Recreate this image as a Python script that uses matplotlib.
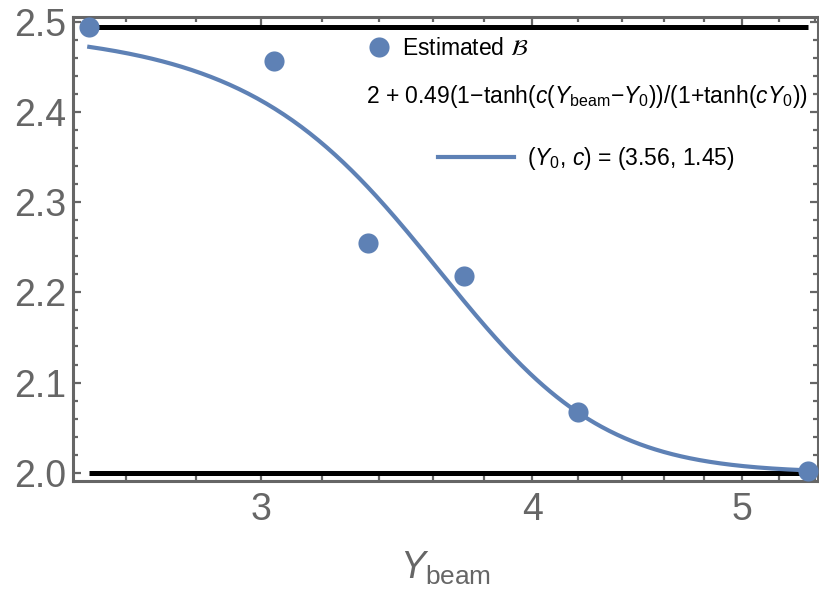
import numpy as np
import matplotlib
matplotlib.use("Agg")
import matplotlib.pyplot as plt
from matplotlib.ticker import FixedLocator, FixedFormatter, NullFormatter

plt.rcParams['font.family'] = ['Liberation Sans', 'DejaVu Sans']
plt.rcParams['mathtext.fontset'] = 'custom'
plt.rcParams['mathtext.rm'] = 'Liberation Sans'
plt.rcParams['mathtext.it'] = 'Liberation Sans:italic'
plt.rcParams['mathtext.bf'] = 'Liberation Sans:bold'

# data
y_beam = [2.50, 3.04, 3.36, 3.72, 4.20, 5.36]
b_est = [2.494, 2.456, 2.255, 2.218, 2.067, 2.002]
Y0 = 3.56
c = 1.45
b_low = 2.0
b_amp = 0.494

x_major = [3, 4, 5]
x_major_labels = ["3", "4", "5"]
x_minor = [2.6, 2.8, 3.2, 3.4, 3.6, 3.8, 4.2, 4.4, 4.6, 4.8, 5.2, 5.4]
y_major = [2.0, 2.1, 2.2, 2.3, 2.4, 2.5]
y_major_labels = ["2.0", "2.1", "2.2", "2.3", "2.4", "2.5"]
y_minor = [2.02, 2.04, 2.06, 2.08, 2.12, 2.14, 2.16, 2.18, 2.22, 2.24, 2.26, 2.28,
           2.32, 2.34, 2.36, 2.38, 2.42, 2.44, 2.46, 2.48]

BLUE = '#5E81B5'
GRAY = '#666666'

fig = plt.figure(figsize=(8.2, 5.9), dpi=100)
ax = fig.add_axes([0.0894, 0.1842, 0.9086, 0.7865])

xs = np.linspace(y_beam[0], y_beam[-1], 400)
fit = b_low + b_amp * (1 - np.tanh(c * (xs - Y0))) / (1 + np.tanh(c * Y0))

ax.plot([y_beam[0], y_beam[-1]], [b_low, b_low], color='black', lw=3.6, solid_capstyle='butt', zorder=2)
ax.plot([y_beam[0], y_beam[-1]], [b_low + b_amp, b_low + b_amp], color='black', lw=3.6, solid_capstyle='butt', zorder=2)
fit_line, = ax.plot(xs, fit, color=BLUE, lw=3.0, zorder=3)
pts, = ax.plot(y_beam, b_est, 'o', color=BLUE, ms=14.5, mec='none', zorder=4, clip_on=False)

ax.set_xscale('log')
ax.set_xlim(2.458, 5.42)
ax.set_ylim(1.9905, 2.505)

ax.xaxis.set_major_locator(FixedLocator(x_major))
ax.xaxis.set_major_formatter(FixedFormatter(x_major_labels))
ax.xaxis.set_minor_locator(FixedLocator(x_minor))
ax.xaxis.set_minor_formatter(NullFormatter())
ax.yaxis.set_major_locator(FixedLocator(y_major))
ax.yaxis.set_major_formatter(FixedFormatter(y_major_labels))
ax.yaxis.set_minor_locator(FixedLocator(y_minor))

for s in ax.spines.values():
    s.set_color(GRAY)
    s.set_linewidth(2.2)

ax.tick_params(which='both', direction='in', top=True, right=True, color=GRAY, width=1.6)
ax.tick_params(which='major', length=6)
ax.tick_params(which='minor', length=3.5)
ax.tick_params(axis='x', which='major', labelsize=27, labelcolor=GRAY, pad=8)
ax.tick_params(axis='y', which='major', labelsize=27, labelcolor=GRAY, pad=5)

ax.set_xlabel(r'$Y_{\mathrm{beam}}$', fontsize=27, color=GRAY, labelpad=15)

leg1 = ax.legend([pts], [r'Estimated $\mathcal{B}$'], loc='upper left',
                 bbox_to_anchor=(0.373, 0.993), frameon=False,
                 handlelength=1.0, handletextpad=0.5, borderaxespad=0.3,
                 prop={'size': 16.5, 'math_fontfamily': 'stix'})
ax.add_artist(leg1)

formula = (r'2 + 0.49(1$-$tanh($c$($Y_{\mathrm{beam}}$$-$$Y_0$))/(1+tanh($cY_0$))')
leg2 = ax.legend([fit_line], [r'($Y_0$, $c$) = (3.56, 1.45)'], loc='upper center',
                 bbox_to_anchor=(0.689, 0.8775), frameon=False, fontsize=16.5,
                 title=formula, title_fontsize=16.5, handlelength=3.3,
                 handletextpad=0.6, labelspacing=1.5, borderaxespad=0.0)

fig.savefig('out.png', dpi=100)
